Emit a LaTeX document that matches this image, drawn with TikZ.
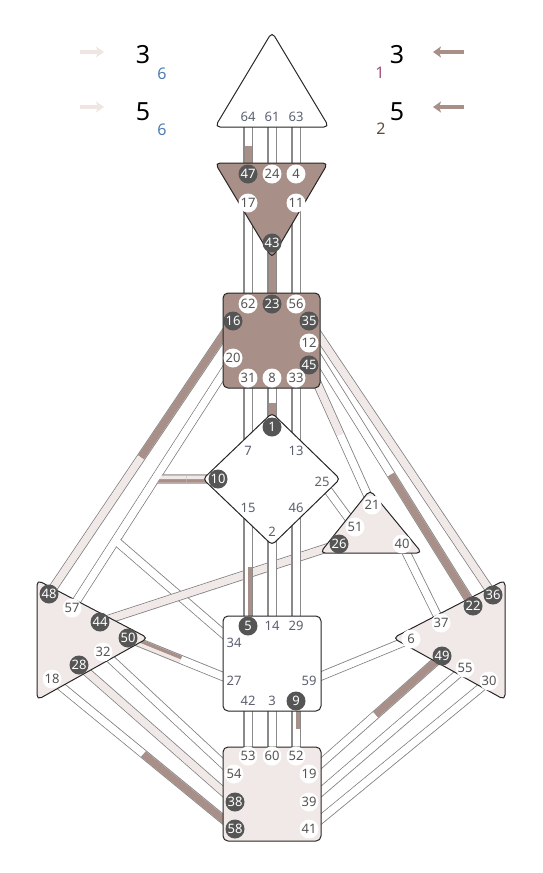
\documentclass[tikz,border=0pt]{standalone}
\usepackage{fontspec}
\setmainfont{Noto Sans}
\usetikzlibrary{calc}
\usetikzlibrary{arrows.meta}

\definecolor{brn}{HTML}{A88F87}
\definecolor{lgt}{HTML}{F1E9E7}
\definecolor{drk}{HTML}{555555}
\definecolor{chl}{HTML}{8A8A8A}
\definecolor{plaintxt}{HTML}{5B6170}
\definecolor{bluetxt}{HTML}{4F7BB0}
\definecolor{mauvetxt}{HTML}{A0517D}
\definecolor{browntxt}{HTML}{5E4B3E}
\definecolor{palearr}{HTML}{EFE6E4}

\newcommand\gatefont{\fontsize{13}{13}\selectfont}
\newcommand\chan[6]{%
  \draw[chedge] (#1) -- (#2);
  \draw[chfill] (#1) -- (#2);
  \draw[chfill,#3] (#1) -- ($(#1)!0.5!(#2)$);
  \draw[chstripe,#4] ($(#1)!1.75pt!-90:(#2)$) -- ($(#1)!0.5!(#2)!1.75pt!-90:(#2)$);
  \draw[chfill,#5] ($(#1)!0.5!(#2)$) -- (#2);
  \draw[chstripe,#6] ($(#1)!0.5!(#2)!1.75pt!-90:(#2)$) -- ($(#2)!1.75pt!90:(#1)$);}

\def\gatelist{64/248/117/pgate,61/272/117/pgate,63/296/117/pgate,
  47/248/174/dgate,24/272/174/wgate,4/296/174/wgate,17/248/203/wgate,11/296/203/wgate,43/272/243/dgate,
  62/248/304/wgate,23/272/304/dgate,56/296/304/wgate,16/233/321/dgate,35/309/321/dgate,12/309/343/wgate,
  20/233/358/wgate,45/309/365/dgate,31/248/378/wgate,8/272/378/wgate,33/296/378/wgate,
  1/272/427/dgate,7/248/451/pgate,13/296/451/pgate,10/218/479/dgate,25/322/482/pgate,15/248/508/pgate,
  46/296/508/pgate,2/272/532/pgate,
  21/372/505/wgate,51/355/527/wgate,26/339/544/dgate,40/402/544/wgate,
  5/248/626/dgate,14/272/626/pgate,29/296/626/pgate,34/234/643/pgate,27/234/681/pgate,59/309/681/pgate,
  42/248/701/pgate,3/272/701/pgate,9/296/701/dgate,
  53/248/756/wgate,60/272/756/wgate,52/296/756/wgate,54/234/774/wgate,19/309/774/wgate,38/235/802/dgate,
  39/309/802/wgate,58/235/829/dgate,41/309/829/wgate,
  48/49/594/dgate,57/72/608/wgate,44/100/622/dgate,50/128/638/dgate,32/103/652/wgate,28/79/665/dgate,
  18/52/679/wgate,
  36/493/595/dgate,22/473/606/dgate,37/441/623/wgate,6/411/639/wgate,49/442/656/dgate,55/465/668/wgate,
  30/489/681/wgate}

\begin{document}
\begin{tikzpicture}[x=1pt,y=-1pt,
    ctr/.style={draw=black!85,line width=1pt,rounded corners=5pt},
    chedge/.style={line width=9.1pt,chl},
    chfill/.style={line width=7pt,white},
    chstripe/.style={line width=3.5pt},
    gate/.style={circle,minimum size=19pt,inner sep=0pt,font=\gatefont},
    dgate/.style={gate,fill=drk,text=white},
    wgate/.style={gate,fill=white,text=drk},
    pgate/.style={gate,text=plaintxt},
    bignum/.style={inner sep=0pt,font=\fontsize{25}{25}\selectfont},
    subnum/.style={inner sep=0pt,font=\fontsize{16}{16}\selectfont},
    palearrow/.style={line width=3.5pt,palearr,-{Stealth[length=8pt,width=11pt,inset=2pt]}},
    brnarrow/.style={line width=3.5pt,brn,-{Stealth[length=8pt,width=11pt,inset=2pt]}}]
  \useasboundingbox (0,0) rectangle (542,873);
  \foreach \g/\x/\y/\s in \gatelist {\coordinate (g\g) at (\x,\y);}
  \coordinate (j10) at ($(g20)!0.484!(g57)$);
  \coordinate (j34) at ($(g20)!0.73!(g57)$);

  \chan{g20}{g57}{white}{white}{white}{white}
  \chan{g10}{j10}{brn}{lgt}{brn}{lgt}
  \chan{j34}{g34}{white}{white}{white}{white}
  \draw[chfill] (g20) -- (g57);
  \foreach \a/\b/\c/\d/\e/\f in {16/48/brn/brn/lgt/lgt,64/47/white/white/brn/brn,61/24/white/white/white/white,
      63/4/white/white/white/white,17/62/white/white/white/white,43/23/brn/brn/brn/brn,
      11/56/white/white/white/white,31/7/white/white/white/white,8/1/white/white/brn/brn,
      33/13/white/white/white/white,35/36/lgt/lgt/lgt/lgt,12/22/white/white/brn/brn,
      45/21/lgt/lgt/white/white,25/51/white/white/white/white,26/44/lgt/lgt/lgt/lgt,
      40/37/white/white/white/white,15/5/white/white/brn/white,2/14/white/white/white/white,
      46/29/white/white/white/white,50/27/brn/lgt/white/white,59/6/white/white/white/white,
      42/53/white/white/white/white,3/60/white/white/white/white,9/52/brn/white/white/white,
      32/54/white/white/white/white,28/38/lgt/lgt/lgt/lgt,18/58/white/white/brn/brn,
      49/19/brn/brn/white/white,55/39/white/white/white/white,30/41/white/white/white/white}
    {\chan{g\a}{g\b}{\c}{\d}{\e}{\f}}

  \draw[ctr,fill=white] (272,32) -- (329,127) -- (215,127) -- cycle;
  \draw[ctr,fill=brn] (215,163) -- (328,163) -- (272,258) -- cycle;
  \draw[ctr,fill=brn] (223,293) rectangle (320,388);
  \draw[ctr,fill=white,rounded corners=4pt] (272,413) -- (340,479) -- (272,545) -- (203,479) -- cycle;
  \draw[ctr,fill=lgt] (370,490) -- (422,553) -- (320,553) -- cycle;
  \draw[ctr,fill=white] (223,616) rectangle (321,711);
  \draw[ctr,fill=lgt] (223,747) rectangle (321,841);
  \draw[ctr,fill=lgt] (37,580) -- (148,638) -- (37,700) -- cycle;
  \draw[ctr,fill=lgt] (505,580) -- (505,700) -- (393,638) -- cycle;

  \foreach \g/\x/\y/\s in \gatelist {\node[\s] (n\g) at (g\g) {\g};}

  \coordinate (la1) at (80,52);  \coordinate (la2) at (104,52);
  \coordinate (la3) at (80,107); \coordinate (la4) at (104,107);
  \coordinate (ra1) at (464,52); \coordinate (ra2) at (433,52);
  \coordinate (ra3) at (464,107); \coordinate (ra4) at (433,107);
  \draw[palearrow] (la1) -- (la2);
  \draw[palearrow] (la3) -- (la4);
  \draw[brnarrow] (ra1) -- (ra2);
  \draw[brnarrow] (ra3) -- (ra4);
  \node[bignum] (dsun) at (143,55) {3};
  \node[subnum,text=bluetxt] (dsunl) at (162,74) {6};
  \node[bignum] (dearth) at (143,112) {5};
  \node[subnum,text=bluetxt] (dearthl) at (162,130) {6};
  \node[bignum] (psun) at (397,55) {3};
  \node[subnum,text=mauvetxt] (psunl) at (380,73) {1};
  \node[bignum] (pearth) at (397,112) {5};
  \node[subnum,text=browntxt] (pearthl) at (381,129) {2};
\end{tikzpicture}
\end{document}
